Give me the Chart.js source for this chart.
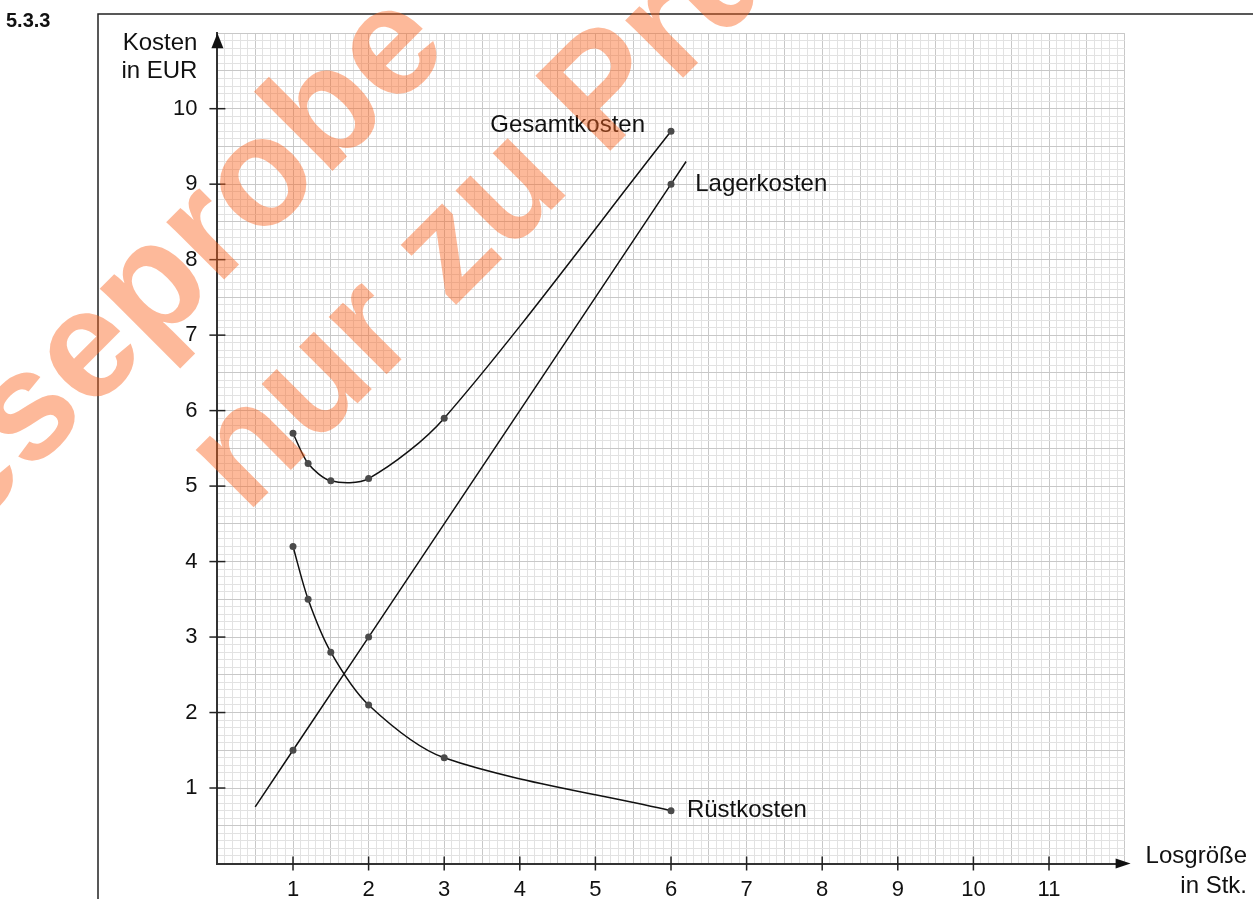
<!DOCTYPE html>
<html lang="de">
<head>
<meta charset="utf-8">
<title>Kosten und Losgröße</title>
<script src="https://cdn.jsdelivr.net/npm/chart.js@4.4.1/dist/chart.umd.min.js"></script>
<style>
  html, body { margin: 0; padding: 0; background: #fff; }
  #wrap { width: 1253px; height: 899px; position: relative; }
</style>
</head>
<body>
<div id="wrap"><canvas id="kostenChart"></canvas></div>
<script>
// Werte (x = Losgröße in Stk., y = Kosten in EUR)
const losgroesse   = [1, 1.2, 1.5, 2, 3, 6];
const gesamtkosten = [5.7, 5.3, 5.07, 5.1, 5.9, 9.7];
const ruestkosten  = [4.2, 3.5, 2.8, 2.1, 1.4, 0.7];

// Lagerkosten: Gerade, an den Enden ohne Punkt
const lagerX      = [0.5, 1, 2, 6, 6.2];
const lagerkosten = [0.75, 1.5, 3, 9, 9.3];
const lagerPunkt  = [false, true, true, true, false];

const xTickLabels = [1, 2, 3, 4, 5, 6, 7, 8, 9, 10, 11];
const yTickLabels = [1, 2, 3, 4, 5, 6, 7, 8, 9, 10];

const fontFamily = "'Liberation Sans', Arial, Helvetica, sans-serif";
Chart.defaults.font.family = fontFamily;

function toPoints(xs, ys) {
    return xs.map((x, i) => ({ x: x, y: ys[i] }));
}

const isWhole = v => Math.abs(v - Math.round(v)) < 1e-6;
const isHalf = v => Math.abs(v * 2 - Math.round(v * 2)) < 1e-6;

function gridColor(ctx) {
    const v = ctx.tick ? ctx.tick.value : 0;
    return isHalf(v) ? '#c8c8c8' : '#e2e2e2';
}

function labelFor(list) {
    return function (value) {
        const r = Math.round(value);
        return isWhole(value) && list.includes(r) ? String(r) : '';
    };
}

// Beschriftungen, Pfeile, Rahmen und Wasserzeichen
const extras = {
    id: 'extras',
    beforeDraw(chart) {
        const ctx = chart.ctx;
        ctx.save();
        ctx.fillStyle = '#fff';
        ctx.fillRect(0, 0, chart.width, chart.height);
        ctx.restore();
    },
    afterDraw(chart) {
        const ctx = chart.ctx;
        const area = chart.chartArea;
        const xs = chart.scales.x;
        const ys = chart.scales.y;

        ctx.save();

        // Teilstriche quer über die Achsen
        ctx.strokeStyle = '#222';
        ctx.lineWidth = 1.5;
        yTickLabels.forEach(v => {
            const py = ys.getPixelForValue(v);
            ctx.beginPath();
            ctx.moveTo(area.left - 8, py);
            ctx.lineTo(area.left + 8, py);
            ctx.stroke();
        });
        xTickLabels.forEach(v => {
            const px = xs.getPixelForValue(v);
            ctx.beginPath();
            ctx.moveTo(px, area.bottom - 7);
            ctx.lineTo(px, area.bottom + 7);
            ctx.stroke();
        });

        // Pfeilspitzen
        ctx.fillStyle = '#111';
        ctx.beginPath();
        ctx.moveTo(area.left, area.top);
        ctx.lineTo(area.left - 6, area.top + 15);
        ctx.lineTo(area.left + 6, area.top + 15);
        ctx.closePath();
        ctx.fill();
        ctx.beginPath();
        ctx.moveTo(area.right + 6, area.bottom);
        ctx.lineTo(area.right - 9, area.bottom - 5);
        ctx.lineTo(area.right - 9, area.bottom + 5);
        ctx.closePath();
        ctx.fill();

        // Achsentitel
        ctx.fillStyle = '#111';
        ctx.font = '24px ' + fontFamily;
        ctx.textAlign = 'right';
        ctx.textBaseline = 'alphabetic';
        ctx.fillText('Kosten', area.left - 20, area.top + 17);
        ctx.fillText('in EUR', area.left - 20, area.top + 45);
        ctx.fillText('Losgröße', chart.width - 6, area.bottom - 1);
        ctx.fillText('in Stk.', chart.width - 6, area.bottom + 29);

        // Kurvenbeschriftungen
        ctx.textAlign = 'left';
        ctx.textBaseline = 'middle';
        ctx.fillText('Gesamtkosten', xs.getPixelForValue(3.61), ys.getPixelForValue(9.78));
        ctx.fillText('Lagerkosten', xs.getPixelForValue(6.32), ys.getPixelForValue(9.0));
        ctx.fillText('Rüstkosten', xs.getPixelForValue(6.21), ys.getPixelForValue(0.7));

        // Rahmen und Aufgabennummer
        ctx.strokeStyle = '#222';
        ctx.lineWidth = 1.5;
        ctx.beginPath();
        ctx.moveTo(98, chart.height);
        ctx.lineTo(98, 14);
        ctx.lineTo(chart.width, 14);
        ctx.stroke();
        ctx.font = 'bold 20px ' + fontFamily;
        ctx.textBaseline = 'alphabetic';
        ctx.fillText('5.3.3', 6, 27);

        // Wasserzeichen
        ctx.rotate(-Math.PI / 4);
        ctx.fillStyle = 'rgba(250, 100, 30, 0.45)';
        ctx.font = 'bold 154px ' + fontFamily;
        ctx.textAlign = 'left';
        ctx.fillText('Leseprobe', -495, 356);
        ctx.fillText('nur zu Prüfzwecken', -190, 538);

        ctx.restore();
    }
};

const ctx = document.getElementById('kostenChart').getContext('2d');

const kostenChart = new Chart(ctx, {
    type: 'line',
    data: {
        datasets: [
            {
                label: 'Gesamtkosten',
                data: toPoints(losgroesse, gesamtkosten),
                borderColor: '#111',
                borderWidth: 1.5,
                tension: 0.3,
                pointRadius: 3.5,
                pointBorderWidth: 0,
                pointBackgroundColor: '#4a4a4a',
                fill: false
            },
            {
                label: 'Lagerkosten',
                data: toPoints(lagerX, lagerkosten),
                borderColor: '#111',
                borderWidth: 1.5,
                tension: 0,
                pointRadius: lagerPunkt.map(p => p ? 3.5 : 0),
                pointBorderWidth: 0,
                pointBackgroundColor: '#4a4a4a',
                fill: false
            },
            {
                label: 'Rüstkosten',
                data: toPoints(losgroesse, ruestkosten),
                borderColor: '#111',
                borderWidth: 1.5,
                tension: 0.3,
                pointRadius: 3.5,
                pointBorderWidth: 0,
                pointBackgroundColor: '#4a4a4a',
                fill: false
            }
        ]
    },
    options: {
        responsive: true,
        maintainAspectRatio: false,
        animation: false,
        layout: {
            padding: { top: 33, right: 128.4, left: 0, bottom: 0 }
        },
        plugins: {
            legend: { display: false },
            tooltip: { enabled: false }
        },
        scales: {
            x: {
                type: 'linear',
                min: 0,
                max: 12,
                afterFit(scale) { scale.height = 35.5; },
                ticks: {
                    stepSize: 0.1,
                    maxTicksLimit: 200,
                    autoSkip: false,
                    maxRotation: 0,
                    padding: 13,
                    color: '#111',
                    font: { size: 22 },
                    callback: labelFor(xTickLabels)
                },
                grid: { color: gridColor, lineWidth: 1, drawTicks: false },
                border: { display: true, color: '#333', width: 2 }
            },
            y: {
                type: 'linear',
                min: 0,
                max: 11,
                afterFit(scale) { scale.width = 217.4; },
                ticks: {
                    stepSize: 0.1,
                    maxTicksLimit: 200,
                    autoSkip: false,
                    padding: 20,
                    color: '#111',
                    font: { size: 22 },
                    callback: labelFor(yTickLabels)
                },
                grid: { color: gridColor, lineWidth: 1, drawTicks: false },
                border: { display: true, color: '#333', width: 2 }
            }
        }
    },
    plugins: [extras]
});
</script>
</body>
</html>
